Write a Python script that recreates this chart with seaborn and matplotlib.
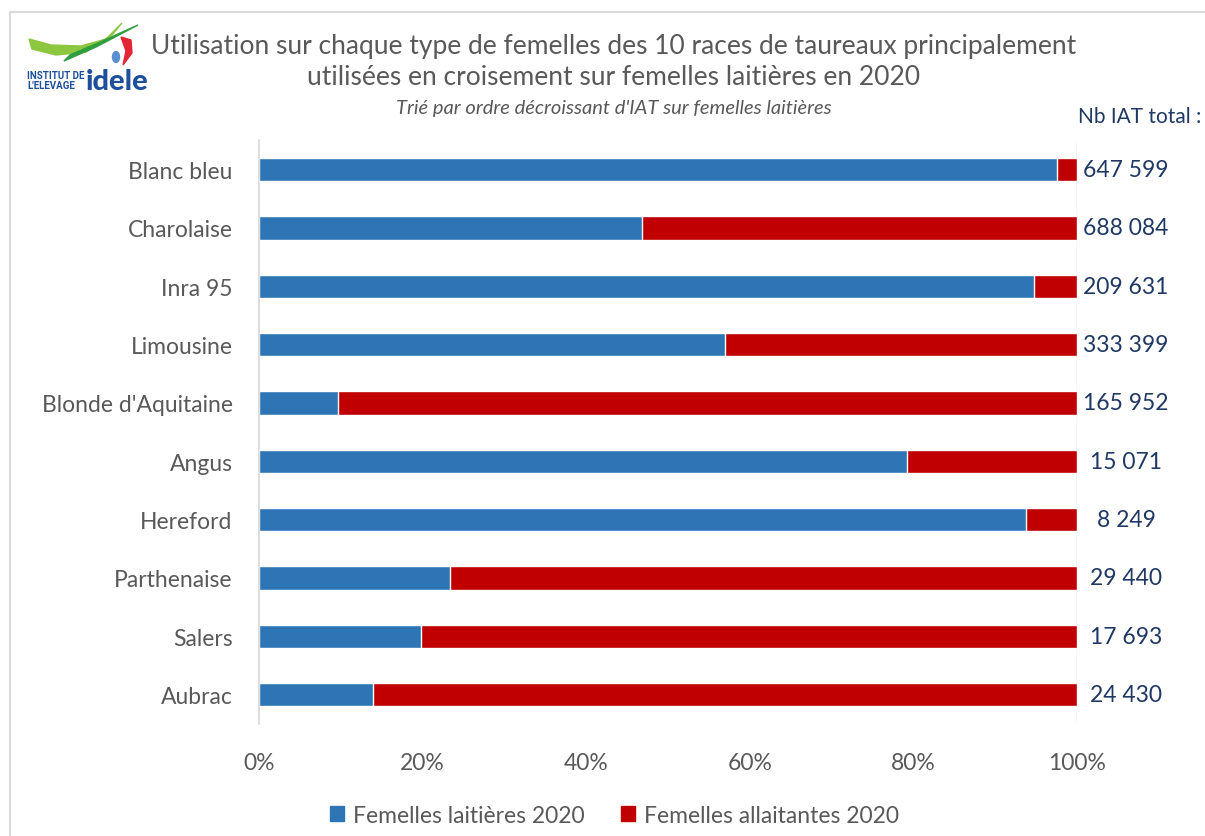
import matplotlib
matplotlib.use('Agg')
import numpy as np
import pandas as pd
import matplotlib.pyplot as plt
import seaborn as sns
from matplotlib.patches import Rectangle, Polygon, Ellipse

# Données
races = ["Blanc bleu", "Charolaise", "Inra 95", "Limousine", "Blonde d'Aquitaine",
         "Angus", "Hereford", "Parthenaise", "Salers", "Aubrac"]
part_laitieres = [97.5, 46.8, 94.7, 57.0, 9.7, 79.2, 93.8, 23.4, 19.8, 13.9]
part_allaitantes = [100 - v for v in part_laitieres]
nb_iat = ["647 599", "688 084", "209 631", "333 399", "165 952",
          "15 071", "8 249", "29 440", "17 693", "24 430"]

bleu = "#2E75B6"
rouge = "#C00000"
gris = "#595959"
marine = "#1F3864"

df = pd.DataFrame({
    "race": races,
    "laitieres": part_laitieres,
    "allaitantes": part_allaitantes,
})
df["total"] = df["laitieres"] + df["allaitantes"]

sns.set_theme(style="white")
plt.rcParams['font.family'] = ['Lato', 'DejaVu Sans']

fig = plt.figure(figsize=(12.05, 8.37), dpi=100)
ax = fig.add_axes([0.215, 0.134, 0.6788, 0.697])

# barres empilées : total (rouge) puis laitières (bleu) par-dessus
sns.barplot(data=df, y="race", x="total", color=rouge, width=0.4,
            saturation=1, ax=ax, orient="h")
sns.barplot(data=df, y="race", x="laitieres", color=bleu, width=0.4,
            saturation=1, ax=ax, orient="h")

ax.set_xlim(0, 100)
ax.set_ylim(len(races) - 0.5, -0.5)
ax.set_xticks([0, 20, 40, 60, 80, 100])
ax.set_xticklabels([f"{t}%" for t in [0, 20, 40, 60, 80, 100]])
ax.set_xlabel("")
ax.set_ylabel("")
ax.tick_params(axis='x', colors=gris, labelsize=16.5, length=0, pad=20)
ax.tick_params(axis='y', colors=gris, labelsize=16.5, length=0, pad=19)
for s in ['top', 'bottom', 'right']:
    ax.spines[s].set_visible(False)
ax.spines['left'].set_color('#D9D9D9')
ax.axvline(100, color='#D9D9D9', lw=1, zorder=0)

# total IAT à droite
for i, txt in enumerate(nb_iat):
    ax.text(106, i, txt, ha='center', va='center', fontsize=16.5, color=marine)

fig.text(0.997, 0.86, "Nb IAT total :", ha='right', va='center', fontsize=15, color=marine)

# titre
fig.text(0.509, 0.945, "Utilisation sur chaque type de femelles des 10 races de taureaux principalement",
         ha='center', va='center', fontsize=19, color=gris)
fig.text(0.509, 0.907, "utilisées en croisement sur femelles laitières en 2020",
         ha='center', va='center', fontsize=19, color=gris)
fig.text(0.509, 0.870, "Trié par ordre décroissant d'IAT sur femelles laitières",
         ha='center', va='center', fontsize=14.5, color=gris, style='italic')

# légende
h1 = Rectangle((0, 0), 1, 1, color=bleu)
h2 = Rectangle((0, 0), 1, 1, color=rouge)
leg = fig.legend([h1, h2], ["Femelles laitières 2020", "Femelles allaitantes 2020"],
                 loc='center', bbox_to_anchor=(0.51, 0.025), ncol=2, frameon=False,
                 fontsize=16.5, handlelength=0.6, handleheight=0.6, handletextpad=0.4,
                 columnspacing=1.6)
for t in leg.get_texts():
    t.set_color(gris)

# cadre
fig.patches.append(Rectangle((10 / 1205, -0.05), 1.2, 1 - 13 / 837 + 0.05,
                             transform=fig.transFigure, fill=False,
                             edgecolor='#D9D9D9', lw=1.5))

# logo simplifié
lax = fig.add_axes([26 / 1205, 1 - 98 / 837, 118 / 1205, 80 / 837])
lax.set_xlim(0, 118)
lax.set_ylim(0, 80)
lax.axis('off')
lax.add_patch(Polygon([[3, 58], [25, 52], [55, 51], [80, 58], [96, 74], [86, 62],
                       [60, 45], [30, 42], [6, 48]], closed=True, color='#8DC63F'))
lax.add_patch(Polygon([[38, 36], [70, 50], [112, 72], [72, 54], [44, 42]],
                      closed=True, color='#2E9E3E'))
lax.add_patch(Polygon([[95, 60], [105, 57], [106, 44], [97, 32], [100, 46]],
                      closed=True, color='#E32636'))
lax.add_patch(Ellipse((90, 40), 7, 11, color='#5B8FD0'))
lax.text(1, 22, "INSTITUT DE", fontsize=7, fontweight='bold', color='#1D4F9C', va='center',
         family=['Roboto', 'DejaVu Sans'])
lax.text(1, 12, "L'ELEVAGE", fontsize=7, fontweight='bold', color='#1D4F9C', va='center',
         family=['Roboto', 'DejaVu Sans'])
lax.text(60, 16, "idele", fontsize=21, fontweight='black', color='#1D4F9C', va='center')

fig.savefig("out.png", dpi=100, facecolor='white')
